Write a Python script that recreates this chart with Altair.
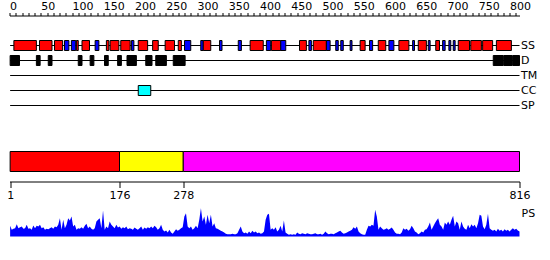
import altair as alt
import pandas as pd
import numpy as np

FONT = "DejaVu Sans"
LENGTH = 816
tracks = ["SS", "D", "TM", "CC", "SP"]

# secondary structure (H = helix red, E = strand blue)
ss_start = [7, 48, 72, 88, 99, 107, 116, 137, 155, 161, 178, 195, 206, 229, 249, 270, 280, 306, 310,
            336, 366, 385, 411, 419, 434, 464, 479, 486, 507, 522, 530, 545, 561, 576, 590, 607, 623,
            645, 654, 670, 682, 693, 703, 710, 718, 738, 757, 779]
ss_end = [43, 68, 85, 95, 106, 110, 128, 143, 159, 175, 193, 199, 221, 238, 264, 275, 290, 310, 322,
          340, 371, 406, 418, 434, 442, 475, 483, 507, 513, 526, 534, 548, 569, 581, 602, 615, 639,
          648, 667, 673, 688, 697, 706, 713, 736, 755, 773, 803]
ss_kind = ["H", "H", "H", "E", "E", "H", "H", "E", "H", "H", "H", "E", "H", "H", "H", "H", "E", "E", "H",
           "E", "E", "H", "E", "H", "E", "H", "E", "H", "E", "E", "E", "E", "H", "E", "H", "E", "H",
           "E", "H", "E", "H", "E", "E", "E", "H", "H", "H", "H"]

# disorder
d_start = [1, 43, 62, 110, 129, 152, 173, 188, 218, 234, 262, 774, 791, 805]
d_end = [16, 49, 68, 116, 135, 158, 179, 203, 228, 251, 281, 790, 804, 816]

# coiled coil
cc_start = [206]
cc_end = [226]

# domain bar
dom_start = [1, 176, 278]
dom_end = [176, 278, 816]
dom_color = ["#ff0000", "#ffff00", "#ff00ff"]
dom_ticks = [1, 176, 278, 816]

ruler_ticks = list(range(0, 811, 10))

# PS profile, read left to right along the sequence
ps_values = [
    32, 20, 23, 25, 37, 25, 28, 30, 23, 25,
    35, 23, 25, 20, 33, 25, 32, 30, 35, 25,
    28, 20, 23, 22, 25, 28, 23, 30, 28, 35,
    55, 20, 50, 25, 35, 55, 48, 60, 30, 35,
    20, 25, 23, 28, 23, 32, 38, 25, 30, 23,
    20, 25, 45, 50, 55, 25, 78, 20, 30, 25,
    45, 35, 30, 25, 35, 27, 30, 23, 28, 25,
    30, 22, 25, 23, 20, 27, 23, 20, 25, 30,
    20, 27, 23, 28, 25, 30, 25, 32, 28, 20,
    25, 35, 20, 15, 18, 12, 20, 12, 8, 15,
    22, 17, 20, 25, 28, 60, 70, 30, 25, 30,
    20, 25, 32, 25, 50, 85, 45, 60, 35, 65,
    40, 65, 30, 40, 25, 23, 20, 17, 15, 12,
    8, 7, 7, 7, 8, 7, 7, 10, 20, 30,
    15, 10, 12, 8, 15, 10, 17, 12, 15, 10,
    12, 8, 10, 15, 50, 65,
    68, 20, 25, 20, 28, 15, 20, 32, 15, 48,
    12, 8, 5, 7, 5, 7, 5, 12, 8, 7,
    10, 8, 7, 10, 8, 7, 7, 8, 10, 7,
    7, 8, 5, 8, 15, 10, 7, 8, 8, 7,
    10, 12, 15, 17, 12, 8, 10, 12, 15, 17,
    20, 28, 23, 30, 15, 10, 7, 5, 5, 20,
    32, 30, 35, 32, 80, 60, 20, 30, 25, 20,
    22, 25, 20, 23, 27, 20, 12, 8, 8, 7,
    12, 25, 20, 23, 17, 22, 32, 25, 15, 12,
    7, 10, 15, 12, 20, 22, 30, 42, 20, 30,
    40, 48, 55, 35, 30, 20, 42, 35, 45, 35,
    50, 62, 30, 45, 40, 20, 45, 30, 23, 20,
    35, 25, 37, 30, 35, 25, 40, 65, 62, 30,
    22, 35, 68, 25, 20, 17, 20, 15, 23, 17,
    20, 15, 22, 17, 20, 15, 20, 25, 20, 23,
    18, 15,
]

# ---------------- tables ----------------
lines_df = pd.DataFrame({"track": tracks, "start": [1] * len(tracks), "end": [LENGTH] * len(tracks)})
boxes_df = pd.concat([
    pd.DataFrame({"track": "SS", "start": ss_start, "end": ss_end, "kind": ss_kind}),
    pd.DataFrame({"track": "D", "start": d_start, "end": d_end, "kind": "D"}),
    pd.DataFrame({"track": "CC", "start": cc_start, "end": cc_end, "kind": "C"}),
], ignore_index=True)
dom_df = pd.DataFrame({"start": dom_start, "end": dom_end, "color": dom_color})
ps_df = pd.DataFrame({"pos": np.linspace(1, LENGTH, len(ps_values)), "score": ps_values})
ps_lab = pd.DataFrame({"pos": [LENGTH], "score": [90], "label": ["PS"]})

x_scale = alt.Scale(domain=[0, LENGTH], nice=False, zero=False)
y_tracks = alt.Scale(type="band", domain=tracks, paddingInner=0, paddingOuter=0)

ruler_axis = alt.Axis(
    orient="top", values=ruler_ticks, title=None, grid=False, offset=22.5,
    labelExpr="datum.value % 50 === 0 ? datum.label : ''",
    labelAlign="left", labelPadding=1, tickSize=3, labelFlush=False,
    labelOverlap=False, labelBound=False, labelFontSize=11, labelFont=FONT,
    labelColor="black", domainColor="black", tickColor="black")
track_axis = alt.Axis(
    orient="right", domain=False, ticks=False, title=None, labelPadding=1,
    labelFontSize=11, labelFont=FONT, labelColor="black")

lines = alt.Chart(lines_df).mark_rule(color="black", strokeWidth=1).encode(
    x=alt.X("start:Q", scale=x_scale, axis=ruler_axis),
    x2="end:Q",
    y=alt.Y("track:N", scale=y_tracks, bandPosition=0.5, axis=track_axis),
)
boxes = alt.Chart(boxes_df).mark_bar(size=10, stroke="black", strokeWidth=1).encode(
    x=alt.X("start:Q", scale=x_scale, axis=ruler_axis),
    x2="end:Q",
    y=alt.Y("track:N", scale=y_tracks, axis=track_axis),
    color=alt.Color("kind:N", legend=None, scale=alt.Scale(
        domain=["H", "E", "D", "C"], range=["#ff0000", "#0000ff", "#000000", "#00ffff"])),
)
track_panel = alt.layer(lines, boxes).properties(width=510, height=75)

dom_panel = alt.Chart(dom_df).mark_rect(stroke="black", strokeWidth=1).encode(
    x=alt.X("start:Q", scale=x_scale, axis=alt.Axis(
        orient="bottom", values=dom_ticks, offset=10, tickSize=6, labelPadding=2,
        title=None, grid=False, labelFlush=False, labelOverlap=False,
        labelFontSize=11, labelFont=FONT, labelColor="black",
        domainColor="black", tickColor="black")),
    x2="end:Q",
    color=alt.Color("color:N", scale=None),
).properties(width=510, height=20)

ps_area = alt.Chart(ps_df).mark_area(color="#0000ff", opacity=1).encode(
    x=alt.X("pos:Q", scale=x_scale, axis=None),
    y=alt.Y("score:Q", scale=alt.Scale(domain=[0, 90], nice=False), axis=None),
)
ps_text = alt.Chart(ps_lab).mark_text(align="left", baseline="top", dx=2, dy=1,
                                      fontSize=11, font=FONT, color="black").encode(
    x=alt.X("pos:Q", scale=x_scale, axis=None),
    y=alt.Y("score:Q", scale=alt.Scale(domain=[0, 90], nice=False), axis=None),
    text="label:N",
)
ps_panel = alt.layer(ps_area, ps_text).properties(width=510, height=30)

chart = alt.vconcat(
    track_panel,
    alt.vconcat(dom_panel, ps_panel, spacing=6),
    spacing=37.5,
).properties(
    padding={"left": 6.5, "top": 0, "right": 0, "bottom": 0},
    background="white",
).configure_view(stroke=None)

chart.save("out.html", embed_options={"renderer": "svg", "actions": False})
